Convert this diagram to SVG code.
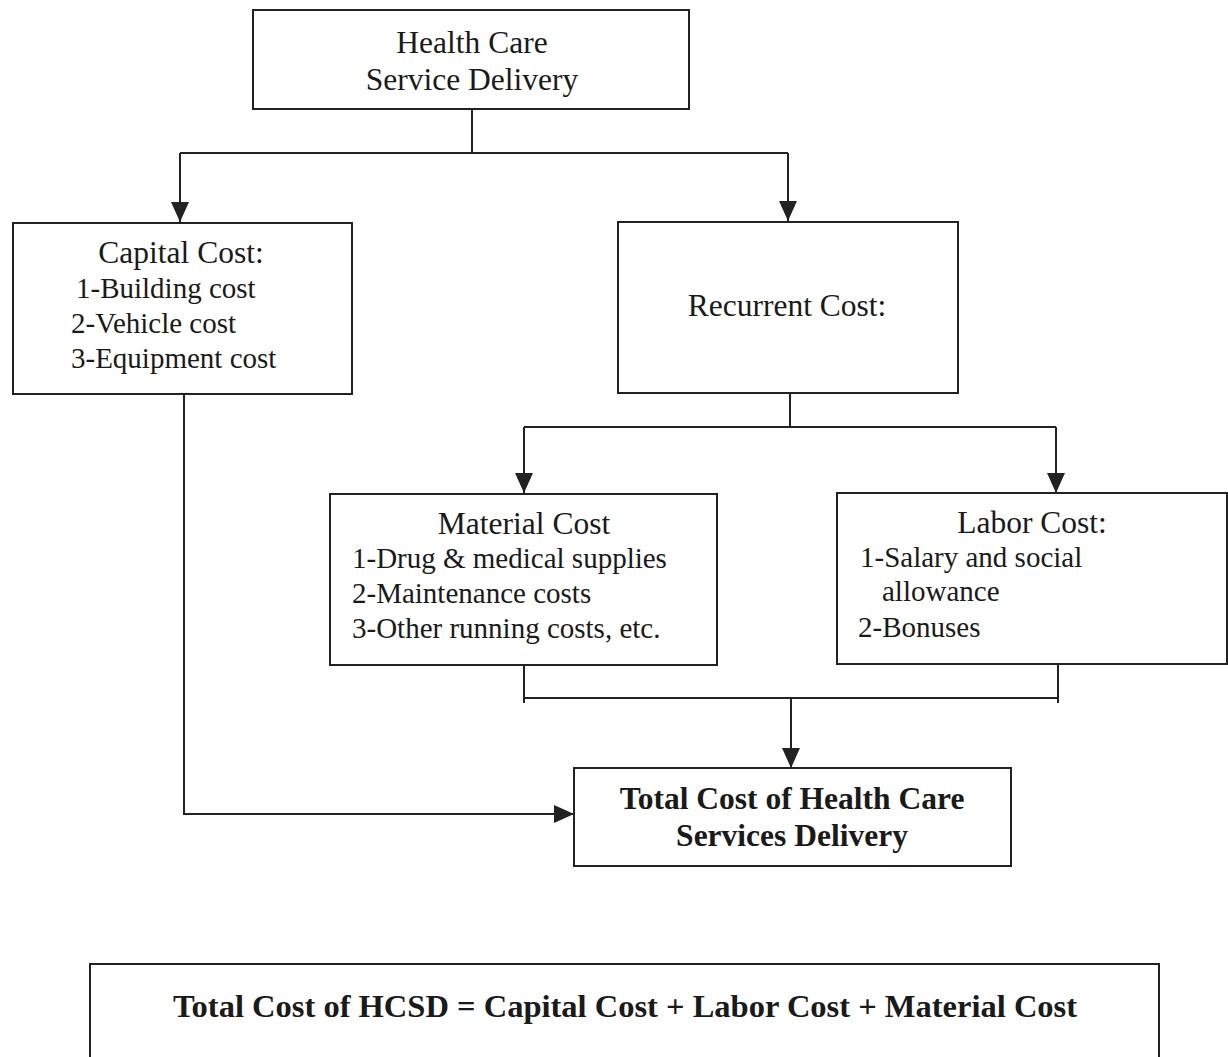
<svg xmlns="http://www.w3.org/2000/svg" width="1228" height="1057" viewBox="0 0 1228 1057">
<defs>
<style>
.box{fill:#fff;stroke:#222;stroke-width:2}
.ln{fill:none;stroke:#222;stroke-width:2}
.t{font-family:"Liberation Serif","Times New Roman",serif;fill:#1a1a1a}
.h{font-size:31.5px}
.i{font-size:29px}
.b{font-size:31.5px;font-weight:bold}
.m{text-anchor:middle}
</style>
<marker id="ah" markerUnits="userSpaceOnUse" markerWidth="20" markerHeight="20" viewBox="0 0 20 20" refX="20" refY="10" orient="auto">
<path d="M0,1 L20,10 L0,19 Z" fill="#222"/>
</marker>
</defs>
<rect width="1228" height="1057" fill="#fff"/>
<g id="connectors">
<path class="ln" d="M472,109 V153"/>
<path class="ln" d="M180,153 H788"/>
<path class="ln" d="M180,153 V222" marker-end="url(#ah)"/>
<path class="ln" d="M788,153 V221" marker-end="url(#ah)"/>
<path class="ln" d="M790,393 V427"/>
<path class="ln" d="M524,427 H1056"/>
<path class="ln" d="M524,427 V493" marker-end="url(#ah)"/>
<path class="ln" d="M1056,427 V493" marker-end="url(#ah)"/>
<path class="ln" d="M524,665 V703"/>
<path class="ln" d="M1058,665 V703"/>
<path class="ln" d="M524,698 H1058"/>
<path class="ln" d="M791,698 V768" marker-end="url(#ah)"/>
<path class="ln" d="M184,394 V814 H574" marker-end="url(#ah)"/>
</g>
<g id="health-care">
<rect class="box" x="253" y="10" width="436" height="99"/>
<text class="t h m" x="472" y="53">Health Care</text>
<text class="t h m" x="472" y="90">Service Delivery</text>
</g>
<g id="capital-cost">
<rect class="box" x="13" y="223" width="339" height="171"/>
<text class="t h m" x="181" y="263">Capital Cost:</text>
<text class="t i" x="76" y="298">1-Building cost</text>
<text class="t i" x="71" y="333">2-Vehicle cost</text>
<text class="t i" x="71" y="368">3-Equipment cost</text>
</g>
<g id="recurrent-cost">
<rect class="box" x="618" y="222" width="340" height="171"/>
<text class="t h m" x="787" y="316">Recurrent Cost:</text>
</g>
<g id="material-cost">
<rect class="box" x="330" y="494" width="387" height="171"/>
<text class="t h m" x="524" y="534">Material Cost</text>
<text class="t i" x="352" y="568">1-Drug &amp; medical supplies</text>
<text class="t i" x="352" y="603">2-Maintenance costs</text>
<text class="t i" x="352" y="638">3-Other running costs, etc.</text>
</g>
<g id="labor-cost">
<rect class="box" x="837" y="493" width="390" height="171"/>
<text class="t h m" x="1032" y="533">Labor Cost:</text>
<text class="t i" x="860" y="567">1-Salary and social</text>
<text class="t i" x="882" y="601">allowance</text>
<text class="t i" x="858" y="637">2-Bonuses</text>
</g>
<g id="total-cost">
<rect class="box" x="574" y="768" width="437" height="98"/>
<text class="t b m" x="792" y="809">Total Cost of Health Care</text>
<text class="t b m" x="792" y="846">Services Delivery</text>
</g>
<g id="formula">
<rect class="box" x="90" y="964" width="1069" height="110"/>
<text class="t m" x="625" y="1017" style="font-size:32.5px;font-weight:bold">Total Cost of HCSD = Capital Cost + Labor Cost + Material Cost</text>
</g>
</svg>
